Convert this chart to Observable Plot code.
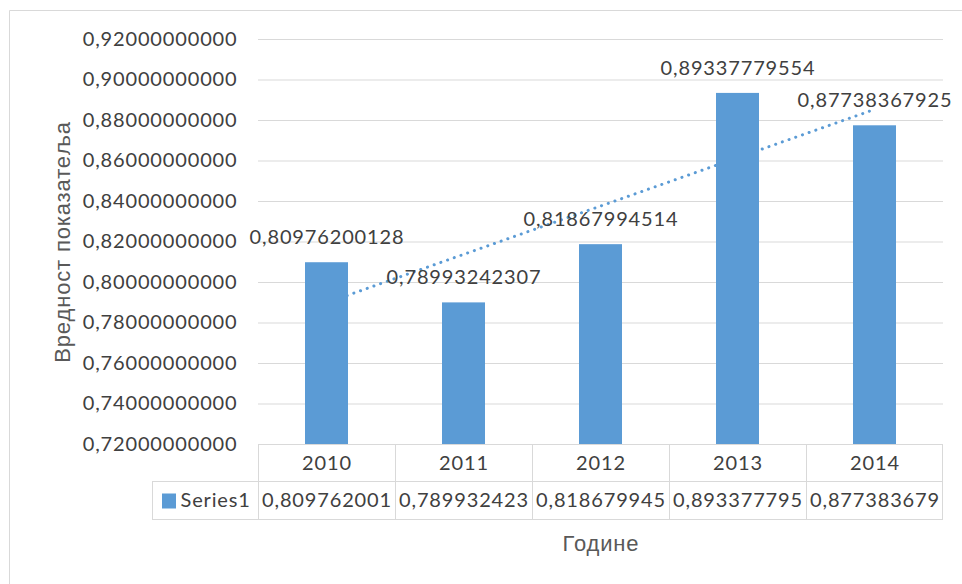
<!DOCTYPE html>
<html>
<head>
<meta charset="utf-8">
<script src="https://cdn.jsdelivr.net/npm/d3@7"></script>
<script src="https://cdn.jsdelivr.net/npm/@observablehq/plot@0.6"></script>
<style>
  html, body { margin: 0; padding: 0; background: #fff; overflow: hidden; }
  #chart svg { display: block; }
</style>
</head>
<body>
<div id="chart"></div>
<script>
// ---- data ----
const years = ["2010", "2011", "2012", "2013", "2014"];
const values = [0.80976200128, 0.78993242307, 0.81867994514, 0.89337779554, 0.87738367925];
const yDomain = [0.72, 0.92];
const yTicks = [0.72, 0.74, 0.76, 0.78, 0.80, 0.82, 0.84, 0.86, 0.88, 0.90, 0.92];
const seriesName = "Series1";
const yTitle = "Вредност показатеља";
const xTitle = "Године";

const data = years.map((year, i) => ({year, value: values[i]}));

// linear trend (least squares on index)
const mx = d3.mean(values, (_, i) => i);
const my = d3.mean(values);
const slope = d3.sum(values, (v, i) => (i - mx) * (v - my)) / d3.sum(values, (_, i) => (i - mx) ** 2);
const icpt = my - slope * mx;
const trend = years.map((year, i) => ({year, value: icpt + slope * i}));

const comma = s => s.replace(".", ",");
const fmtTick = d => comma(d3.format(".11f")(d));
const fmtLabel = d => comma(d.toFixed(11));
const fmtTable = d => comma(String(d).slice(0, 11));

const blue = "#5b9bd5";
const textCol = "#404040";
const gridCol = "#d9d9d9";

const plot = Plot.plot({
  width: 962,
  height: 584,
  marginLeft: 258,
  marginRight: 19,
  marginTop: 39,
  marginBottom: 140,
  style: {fontFamily: "Lato", fontSize: "20px", color: textCol, letterSpacing: "0.85px", background: "#fff"},
  x: {type: "band", domain: years, padding: 0, axis: null},
  y: {domain: yDomain, ticks: yTicks, tickFormat: fmtTick},
  marks: [
    Plot.gridY(yTicks, {stroke: gridCol, strokeOpacity: 1, strokeWidth: 1}),
    Plot.axisY(yTicks, {tickSize: 0, tickPadding: 21, tickFormat: fmtTick, label: null, fill: textCol}),
    Plot.line(trend, {x: "year", y: "value", stroke: blue, strokeWidth: 3, strokeDasharray: "0.1 7", strokeLinecap: "round"}),
    Plot.barY(data, {x: "year", y1: yDomain[0], y2: "value", fill: blue, insetLeft: 47, insetRight: 47}),
    Plot.text(data, {x: "year", y: "value", text: d => fmtLabel(d.value), dy: -25, lineAnchor: "middle", fill: textCol}),
    Plot.text(years, {x: d => d, frameAnchor: "bottom", lineAnchor: "middle", dy: 19, text: d => d, fill: textCol}),
    Plot.text(data, {x: "year", frameAnchor: "bottom", lineAnchor: "middle", dy: 56, text: d => fmtTable(d.value), fill: textCol}),
    Plot.text([seriesName], {frameAnchor: "bottom-left", lineAnchor: "middle", textAnchor: "start", dx: -78, dy: 56, text: d => d, fill: textCol}),
    Plot.text([yTitle], {frameAnchor: "left", rotate: -90, dx: -196, textAnchor: "middle", lineAnchor: "middle", text: d => d, fill: "#595959", fontFamily: "Liberation Sans", fontSize: 22, letterSpacing: "1.2px"}),
    Plot.text([xTitle], {frameAnchor: "bottom", lineAnchor: "middle", dy: 99, text: d => d, fill: "#595959", fontFamily: "Liberation Sans", fontSize: 22, letterSpacing: "1.2px"})
  ]
});

document.getElementById("chart").appendChild(plot);

// ---- data table grid, legend key and chart border, drawn from the x scale ----
const xs = plot.scale("x");
const ysc = plot.scale("y");
const bw = xs.bandwidth;
const x1 = xs.apply(years[years.length - 1]) + bw;
const yAxis = ysc.apply(yDomain[0]);
const rowH = 38;
const legendLeft = 152;
const svg = d3.select(plot);
const g = svg.append("g").attr("stroke", gridCol).attr("stroke-width", 1).attr("fill", "none");
// vertical column lines
years.forEach(yr => {
  const xv = Math.round(xs.apply(yr)) + 0.5;
  g.append("line").attr("x1", xv).attr("x2", xv).attr("y1", yAxis).attr("y2", yAxis + 2 * rowH - 0.5);
});
g.append("line").attr("x1", Math.round(x1) - 0.5).attr("x2", Math.round(x1) - 0.5).attr("y1", yAxis).attr("y2", yAxis + 2 * rowH - 0.5);
// horizontal lines
[1, 2].forEach(r => {
  const yv = Math.round(yAxis + r * rowH) - 0.5;
  g.append("line").attr("x1", legendLeft).attr("x2", Math.round(x1)).attr("y1", yv).attr("y2", yv);
});
g.append("line").attr("x1", legendLeft + 0.5).attr("x2", legendLeft + 0.5).attr("y1", yAxis + rowH).attr("y2", yAxis + 2 * rowH);
// outer chart border (left & top)
g.append("line").attr("x1", 9.5).attr("x2", 962).attr("y1", 10.5).attr("y2", 10.5);
g.append("line").attr("x1", 9.5).attr("x2", 9.5).attr("y1", 10.5).attr("y2", 584);
// legend key
svg.append("rect").attr("x", 162).attr("y", yAxis + rowH * 1.5 - 7.5).attr("width", 14).attr("height", 15).attr("fill", blue);
</script>
</body>
</html>
